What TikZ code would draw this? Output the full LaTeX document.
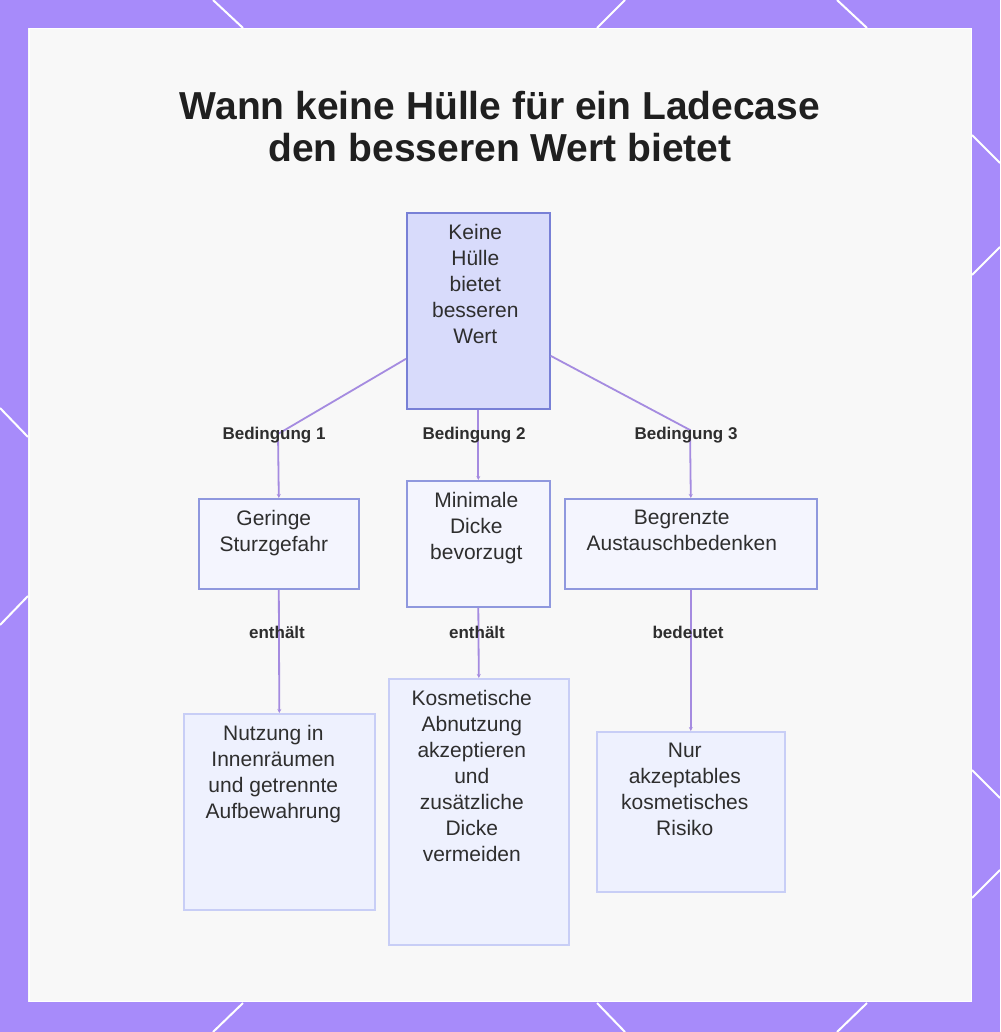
\documentclass[tikz,border=0pt]{standalone}
\usepackage{fontspec}
\setmainfont{Liberation Sans}
\usetikzlibrary{arrows.meta}

\definecolor{framepurple}{HTML}{A78BFA}
\definecolor{panelbg}{HTML}{F8F8F8}
\definecolor{topfill}{HTML}{D8DBFB}
\definecolor{topdraw}{HTML}{7880D6}
\definecolor{midfill}{HTML}{F4F5FE}
\definecolor{middraw}{HTML}{8F98DE}
\definecolor{lowfill}{HTML}{EEF1FE}
\definecolor{lowdraw}{HTML}{C8CEF6}
\definecolor{conncol}{HTML}{A58BE0}
\definecolor{ink}{HTML}{2E2E2E}
\definecolor{titleink}{HTML}{1F1F1F}

\tikzset{
  boxbase/.style={rectangle, inner sep=0pt, line width=1.6pt, anchor=north west},
  topbox/.style={boxbase, fill=topfill, draw=topdraw},
  midbox/.style={boxbase, fill=midfill, draw=middraw},
  lowbox/.style={boxbase, fill=lowfill, draw=lowdraw},
  boxtext/.style={anchor=north, inner sep=0pt, align=center, text=ink,
    font=\fontsize{21}{26}\selectfont},
  edgelabel/.style={inner sep=0pt, text=ink, font=\fontsize{17}{20}\selectfont\bfseries},
  conn/.style={draw=conncol, line width=1.8pt,
    -{Stealth[length=4pt,width=4pt]}},
  deco/.style={draw=white, line width=2pt}
}

\begin{document}
\begin{tikzpicture}[x=1pt,y=-1pt]
\useasboundingbox (0,0) rectangle (1000,1032);

% frame and inner panel
\fill[framepurple] (0,0) rectangle (1000,1032);
\fill[panelbg] (28,28) rectangle (972,1002);
\draw[white, line width=1pt] (29,29) rectangle (971,1001);

% diagonal accents on the frame
\draw[deco] (213,0) -- (243,28);
\draw[deco] (597,28) -- (625,0);
\draw[deco] (837,0) -- (867,28);
\draw[deco] (972,135) -- (1000,163);
\draw[deco] (972,275) -- (1000,247);
\draw[deco] (972,770) -- (1000,798);
\draw[deco] (972,898) -- (1000,870);
\draw[deco] (213,1032) -- (243,1003);
\draw[deco] (597,1003) -- (625,1032);
\draw[deco] (837,1032) -- (867,1003);
\draw[deco] (0,408) -- (28,437);
\draw[deco] (0,625) -- (28,596);

% title
\node[align=center, text=titleink, font=\fontsize{39}{42}\selectfont\bfseries] (title) at (500,127)
  {Wann keine Hülle für ein Ladecase\\den besseren Wert bietet};

% boxes
\node[topbox, minimum width=143pt, minimum height=196pt] (top) at (406,212) {};
\node[midbox, minimum width=160pt, minimum height=90pt]  (c1) at (198,498) {};
\node[midbox, minimum width=143pt, minimum height=126pt] (c2) at (406,480) {};
\node[midbox, minimum width=252pt, minimum height=90pt]  (c3) at (564,498) {};
\node[lowbox, minimum width=191pt, minimum height=196pt] (r1) at (183,713) {};
\node[lowbox, minimum width=180pt, minimum height=266pt] (r2) at (388,678) {};
\node[lowbox, minimum width=188pt, minimum height=160pt] (r3) at (596,731) {};

% box texts
\node[boxtext] (toptxt) at ([xshift=-3pt,yshift=-12pt]top.north) {Keine\\Hülle\\bietet\\besseren\\Wert};
\node[boxtext] (c1txt) at ([xshift=-5pt,yshift=-12pt]c1.north) {Geringe\\Sturzgefahr};
\node[boxtext] (c2txt) at ([xshift=-2pt,yshift=-12pt]c2.north) {Minimale\\Dicke\\bevorzugt};
\node[boxtext] (c3txt) at ([xshift=-9pt,yshift=-12pt]c3.north) {Begrenzte\\Austauschbedenken};
\node[boxtext] (r1txt) at ([xshift=-6pt,yshift=-12pt]r1.north) {Nutzung in\\Innenräumen\\und getrennte\\Aufbewahrung};
\node[boxtext] (r2txt) at ([xshift=-7pt,yshift=-12pt]r2.north) {Kosmetische\\Abnutzung\\akzeptieren\\und\\zusätzliche\\Dicke\\vermeiden};
\node[boxtext] (r3txt) at ([xshift=-6pt,yshift=-12pt]r3.north) {Nur\\akzeptables\\kosmetisches\\Risiko};

% bends of the outer branches
\coordinate (bend1) at (278,434);
\coordinate (bend3) at (690,430);

% connectors
\draw[conn] ([yshift=-48pt]top.west) -- (bend1) -- (c1.north);
\draw[conn] (top.south) -- (c2.north);
\draw[conn] ([yshift=-45pt]top.east) -- (bend3) -- (c3.north);
\draw[conn] (c1.south) -- (r1.north);
\draw[conn] (c2.south) -- (r2.north);
\draw[conn] (c3.south) -- (r3.north);

% connector labels
\node[edgelabel] (l1) at (274,435) {Bedingung 1};
\node[edgelabel] (l2) at (474,435) {Bedingung 2};
\node[edgelabel] (l3) at (686,435) {Bedingung 3};
\node[edgelabel] (l4) at (277,632) {enthält};
\node[edgelabel] (l5) at (477,632) {enthält};
\node[edgelabel] (l6) at (688,632) {bedeutet};
\end{tikzpicture}
\end{document}
